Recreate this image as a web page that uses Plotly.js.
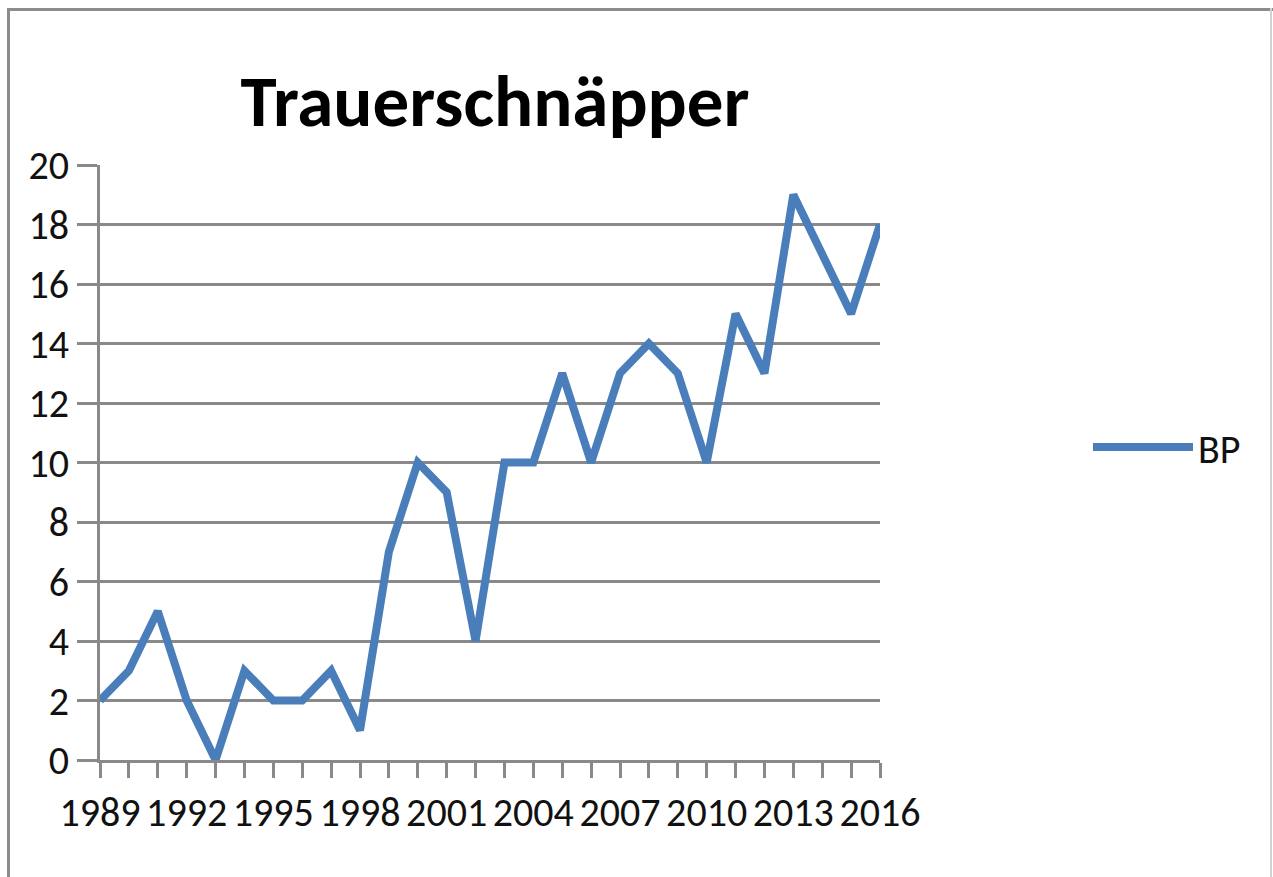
<!DOCTYPE html>
<html>
<head>
<meta charset="utf-8">
<script src="https://cdn.plot.ly/plotly-3.0.1.min.js"></script>
<style>
  html, body { margin: 0; padding: 0; background: #ffffff; }
  #wrap { position: relative; width: 1273px; height: 877px; overflow: hidden; }
  #chart { position: absolute; left: 0; top: 0; width: 1273px; height: 877px; }
  .frame { position: absolute; pointer-events: none; }
</style>
</head>
<body>
<div id="wrap">
  <div id="chart"></div>
  <div class="frame" style="left:7px; top:8px; width:1266px; height:3px; background:#8c8c8c;"></div>
  <div class="frame" style="left:7px; top:8px; width:3px; height:869px; background:#8c8c8c;"></div>
  <div class="frame" style="left:1270px; top:8px; width:2px; height:869px; background:#d2d2d2;"></div>
</div>
<script>
const years = [1989,1990,1991,1992,1993,1994,1995,1996,1997,1998,1999,2000,2001,2002,
               2003,2004,2005,2006,2007,2008,2009,2010,2011,2012,2013,2014,2015,2016];
const bp = [2,3,5,2,0,3,2,2,3,1,7,10,9,4,10,10,13,10,13,14,13,10,15,13,19,17,15,18];
const seriesName = 'BP';
const chartTitle = 'Trauerschnäpper';
const yTicks = [0,2,4,6,8,10,12,14,16,18,20];
const xTickText = years.map((y, i) => (i % 3 === 0 ? String(y) : ''));

const FONT = 'Carlito, Lato, "Open Sans", sans-serif';
const GRID = '#898989';
const TXT = '#111111';

const trace = {
  x: years,
  y: bp,
  type: 'scatter',
  mode: 'lines',
  name: seriesName,
  line: { color: '#4a7ebb', width: 8 },
  showlegend: true
};

const layout = {
  width: 1273,
  height: 877,
  paper_bgcolor: '#ffffff',
  plot_bgcolor: '#ffffff',
  margin: { l: 100, r: 393, t: 165, b: 117, pad: 0 },
  title: {
    text: '<b>' + chartTitle + '</b>',
    font: { family: FONT, size: 73, color: '#000000' },
    x: 495 / 1273, xref: 'container', xanchor: 'center',
    y: 1 - 100 / 877, yref: 'container', yanchor: 'middle'
  },
  xaxis: {
    range: [1989, 2016],
    tickmode: 'array',
    tickvals: years,
    ticktext: xTickText,
    ticks: 'outside',
    ticklen: 15,
    tickwidth: 3,
    tickcolor: GRID,
    showline: true,
    linecolor: GRID,
    linewidth: 3,
    showgrid: false,
    zeroline: false,
    tickangle: 0,
    tickfont: { family: FONT, size: 40, color: TXT },
    fixedrange: true
  },
  yaxis: {
    range: [0, 20],
    tickmode: 'array',
    tickvals: yTicks,
    ticktext: yTicks.map(String),
    ticks: 'outside',
    ticklen: 20,
    tickwidth: 3,
    tickcolor: GRID,
    showline: true,
    linecolor: GRID,
    linewidth: 3,
    showgrid: true,
    gridcolor: GRID,
    gridwidth: 3,
    zeroline: false,
    tickfont: { family: FONT, size: 40, color: TXT },
    fixedrange: true
  },
  showlegend: true,
  legend: {
    x: 1088 / 1273, xref: 'container', xanchor: 'left',
    y: 1 - 447 / 877, yref: 'container', yanchor: 'middle',
    font: { family: FONT, size: 40, color: TXT },
    bgcolor: 'rgba(0,0,0,0)',
    itemwidth: 100
  }
};

Plotly.newPlot('chart', [trace], layout, { displayModeBar: false, staticPlot: true });
</script>
</body>
</html>
